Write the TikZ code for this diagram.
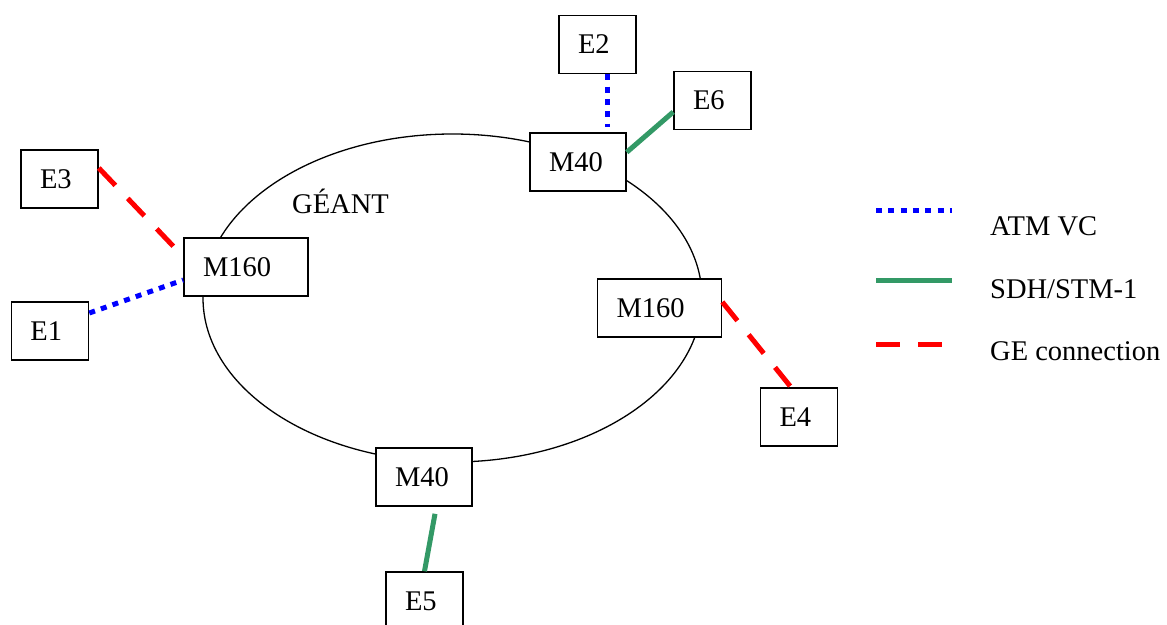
\documentclass[tikz,border=0pt]{standalone}
\usepackage{fontspec}
\setmainfont{Liberation Serif}
\definecolor{sdhgreen}{RGB}{51,153,102}
\begin{document}
\begin{tikzpicture}[x=1pt,y=-1pt,
  box/.style={draw, fill=white, line width=1.6pt, minimum height=58pt,
    inner xsep=19pt, inner ysep=0pt, align=left},
  narrow/.style={box, text width=39pt},
  mid/.style={box, text width=58pt},
  wide/.style={box, text width=86pt},
  atm/.style={draw=blue, line width=5pt, dash pattern=on 6pt off 6.3pt},
  sdh/.style={draw=sdhgreen, line width=5pt},
  ge/.style={draw=red, line width=5pt, dash pattern=on 24pt off 18pt},
  lbl/.style={inner sep=0pt, anchor=base west},
  every node/.style={font=\fontsize{28.5}{34}\selectfont}]
\useasboundingbox (0,0) rectangle (1167,624);

% ring
\draw[line width=1.3pt] (452.5,298) ellipse [x radius=249.5, y radius=164];
\node[lbl] (geant) at (292,213) {GÉANT};

% nodes
\node[narrow] (E2) at (597.5,44.5) {E2};
\node[narrow] (E6) at (712.5,100.5) {E6};
\node[mid]    (M40a) at (578,162) {M40};
\node[narrow] (E3) at (59.5,179) {E3};
\node[wide]   (M160L) at (246,267) {M160};
\node[narrow] (E1) at (50,331) {E1};
\node[wide]   (M160R) at (659.5,308) {M160};
\node[narrow] (E4) at (799,417) {E4};
\node[mid]    (M40b) at (424,477) {M40};
\node[narrow] (E5) at (424.5,601) {E5};

% connectors
\draw[atm] ([xshift=9.5pt]E2.south) -- ([xshift=29pt,yshift=5pt]M40a.north);
\draw[sdh] ([yshift=-20pt]M40a.north east) -- ([yshift=-11.5pt]E6.west);
\draw[ge]  ([yshift=11pt]E3.east) -- ([xshift=-9pt,yshift=-10pt]M160L.north west);
\draw[atm] ([yshift=18pt]E1.east) -- ([yshift=-13pt]M160L.west);
\draw[ge]  ([yshift=6pt]M160R.east) -- ([xshift=-8pt]E4.north);
\draw[sdh] ([xshift=11pt,yshift=-7pt]M40b.south) -- (E5.north);

% legend
\coordinate (la1) at (876,210); \coordinate (la2) at (952,210);
\coordinate (ls1) at (876,280); \coordinate (ls2) at (952,280);
\coordinate (lg1) at (876,344); \coordinate (lg2) at (943,344);
\draw[atm] (la1) -- (la2);
\draw[sdh] (ls1) -- (ls2);
\draw[ge]  (lg1) -- (lg2);
\node[lbl] (tatm) at (990,235) {ATM VC};
\node[lbl] (tsdh) at (990,298) {SDH/STM-1};
\node[lbl] (tge)  at (990,360) {GE connection};
\end{tikzpicture}
\end{document}
